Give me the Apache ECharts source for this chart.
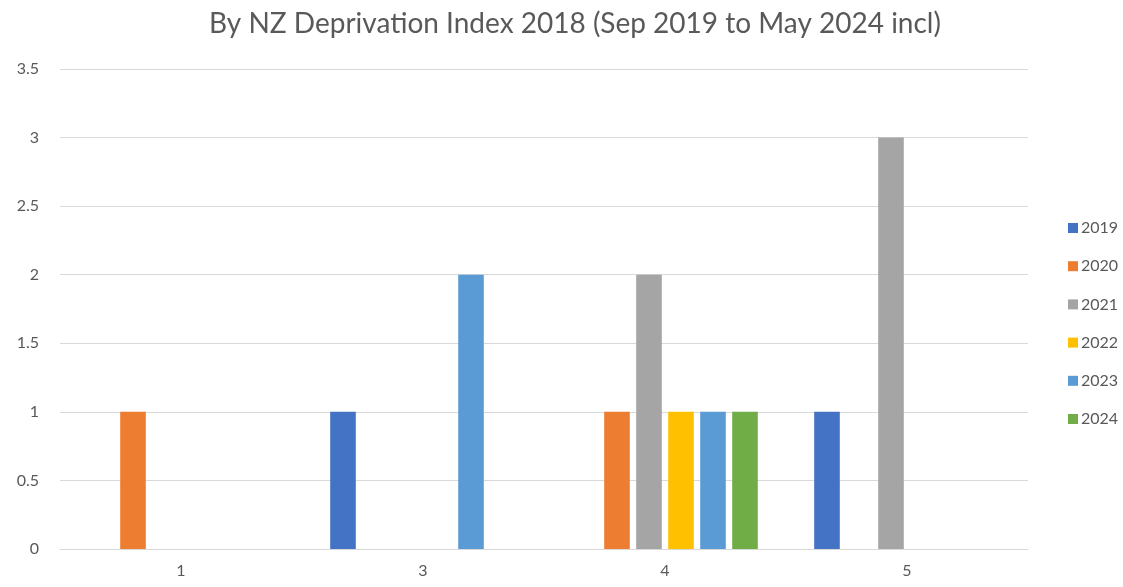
<!DOCTYPE html>
<html>
<head>
<meta charset="utf-8">
<script src="https://cdn.jsdelivr.net/npm/echarts@6/dist/echarts.min.js"></script>
<style>
html,body{margin:0;padding:0;background:#fff;}
#chart{width:1123px;height:587px;}
</style>
</head>
<body>
<div id="chart"></div>
<script>
const categories = ['1', '3', '4', '5'];
const seriesNames = ['2019', '2020', '2021', '2022', '2023', '2024'];
const v2019 = [0, 1, 0, 1];
const v2020 = [1, 0, 1, 0];
const v2021 = [0, 0, 2, 3];
const v2022 = [0, 0, 1, 0];
const v2023 = [0, 2, 1, 0];
const v2024 = [0, 0, 1, 0];
const colors = ['#4472C4', '#ED7D31', '#A5A5A5', '#FFC000', '#5B9BD5', '#70AD47'];
const titleText = 'By NZ Deprivation Index 2018 (Sep 2019 to May 2024 incl)';

const values = [v2019, v2020, v2021, v2022, v2023, v2024];
const FONT = 'Lato';

const chart = echarts.init(document.getElementById('chart'));
chart.setOption({
  animation: false,
  color: colors,
  title: {
    text: titleText,
    left: 570,
    textAlign: 'center',
    top: 5,
    textStyle: { fontFamily: FONT, fontSize: 28, fontWeight: 'normal', color: '#595959' }
  },
  legend: {
    orient: 'vertical',
    left: 1063,
    top: 215,
    itemWidth: 10,
    itemHeight: 10,
    itemGap: 22.2,
    icon: 'rect',
    textStyle: { fontFamily: FONT, fontSize: 16, color: '#595959', padding: [0, 0, 0, -2] },
    data: seriesNames
  },
  grid: { left: 60, right: 95, top: 69, bottom: 38 },
  xAxis: {
    type: 'category',
    data: categories,
    axisLine: { lineStyle: { color: '#D9D9D9', width: 1 } },
    axisTick: { show: false },
    axisLabel: { fontFamily: FONT, fontSize: 16, color: '#595959', margin: 14 }
  },
  yAxis: {
    type: 'value',
    min: 0,
    max: 3.5,
    interval: 0.5,
    axisLine: { show: false },
    axisTick: { show: false },
    splitLine: { lineStyle: { color: '#D9D9D9', width: 1 } },
    axisLabel: { fontFamily: FONT, fontSize: 16, color: '#595959', margin: 21 }
  },
  series: seriesNames.map((n, i) => ({
    name: n,
    type: 'bar',
    data: values[i],
    barGap: '25%',
    barCategoryGap: '23.3%'
  }))
});
</script>
</body>
</html>
